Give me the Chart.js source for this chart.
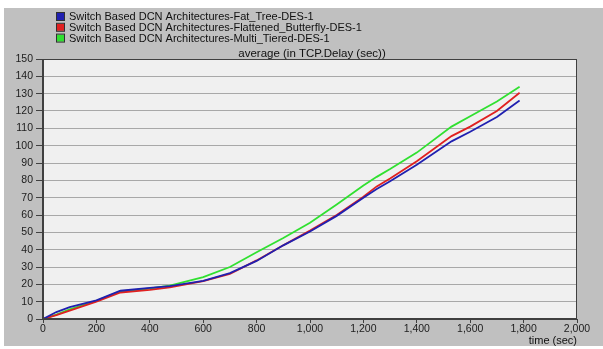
<!DOCTYPE html>
<html>
<head>
<meta charset="utf-8">
<script src="https://cdn.jsdelivr.net/npm/chart.js@4/dist/chart.umd.min.js"></script>
<style>
  body { margin: 0; background: #fff; }
  canvas { display: block; }
</style>
</head>
<body>
<canvas id="chart" width="603" height="349"></canvas>
<script>
// time (sec) samples shared by all series
const timeSec = [0, 50, 100, 200, 290, 400, 475, 600, 700, 800, 900, 1000, 1100, 1200, 1250, 1300, 1400, 1530, 1600, 1700, 1785];

const fatTree = [0, 4, 6.8, 10.8, 16.3, 17.9, 19, 22, 26.5, 33.5, 42.5, 50.5, 59.5, 70, 75, 79.5, 89, 102.5, 108, 116.5, 126];
const flattenedButterfly = [0, 2.2, 4.8, 10, 15.3, 16.8, 18.3, 21.8, 26, 33.8, 42.5, 51, 60, 70.5, 76.5, 81, 91, 105.5, 111, 120, 130.5];
const multiTiered = [0, 2.5, 5.5, 10.5, 16, 17.6, 19.2, 24.2, 30, 38.5, 46.7, 55.5, 66, 77, 82, 86.5, 96, 111, 117, 125.5, 134];

const seriesNames = [
  "Switch Based DCN Architectures-Fat_Tree-DES-1",
  "Switch Based DCN Architectures-Flattened_Butterfly-DES-1",
  "Switch Based DCN Architectures-Multi_Tiered-DES-1"
];
const seriesColors = ["#2020b0", "#e02020", "#30e030"];

const chartTitle = "average (in TCP.Delay (sec))";
const xTitle = "time (sec)";

const FONT = '"Liberation Sans", Arial, sans-serif';
const toPoints = vals => vals.map((v, i) => ({ x: timeSec[i], y: v }));

// background, plot box, legend and captions
const frame = {
  id: 'frame',
  beforeDraw(chart) {
    const { ctx, chartArea: a } = chart;
    ctx.save();
    ctx.fillStyle = '#fff';
    ctx.fillRect(0, 0, chart.width, chart.height);
    ctx.fillStyle = '#c0c0c0';
    ctx.fillRect(4, 8, chart.width - 4, 338);
    ctx.fillStyle = '#f0f0f0';
    ctx.fillRect(a.left, a.top, a.right - a.left, a.bottom - a.top);
    ctx.restore();
  },
  afterDraw(chart) {
    const { ctx, chartArea: a } = chart;
    ctx.save();
    ctx.strokeStyle = '#404040';
    ctx.lineWidth = 1;
    ctx.strokeRect(a.left + 0.5, a.top + 0.5, a.right - a.left - 1, a.bottom - a.top);
    ctx.lineWidth = 2;
    ctx.beginPath();
    ctx.moveTo(a.left, a.top);
    ctx.lineTo(a.left, a.bottom);
    ctx.lineTo(a.right, a.bottom);
    ctx.stroke();

    ctx.font = '11px ' + FONT;
    ctx.textBaseline = 'middle';
    seriesNames.forEach((name, i) => {
      const y = 16.5 + i * 10.8;
      ctx.fillStyle = seriesColors[i];
      ctx.fillRect(57, y - 3.5, 7, 7);
      ctx.strokeStyle = '#303030';
      ctx.lineWidth = 1;
      ctx.strokeRect(56.5, y - 4, 8, 8);
      ctx.fillStyle = '#101010';
      ctx.textAlign = 'left';
      ctx.fillText(name, 69, y + 0.5);
    });

    ctx.font = '11.5px ' + FONT;
    ctx.fillStyle = '#101010';
    ctx.textAlign = 'center';
    ctx.fillText(chartTitle, (a.left + a.right) / 2 + 2, 54);
    ctx.font = '11px ' + FONT;
    ctx.textAlign = 'right';
    ctx.fillText(xTitle, a.right, 341);
    ctx.restore();
  }
};

new Chart(document.getElementById('chart'), {
  type: 'line',
  data: {
    datasets: [
      { label: seriesNames[0], data: toPoints(fatTree), borderColor: seriesColors[0] },
      { label: seriesNames[1], data: toPoints(flattenedButterfly), borderColor: seriesColors[1] },
      { label: seriesNames[2], data: toPoints(multiTiered), borderColor: seriesColors[2] }
    ].map(d => Object.assign(d, { borderWidth: 1.8, pointRadius: 0, tension: 0, fill: false }))
  },
  options: {
    responsive: false,
    animation: false,
    layout: { padding: { top: 59, right: 26, left: 0, bottom: 0 } },
    plugins: { legend: { display: false }, tooltip: { enabled: false } },
    scales: {
      x: {
        type: 'linear',
        min: 0,
        max: 2000,
        ticks: {
          stepSize: 200,
          color: '#202020',
          font: { family: FONT, size: 10.5 },
          padding: 0,
          maxRotation: 0
        },
        grid: { drawOnChartArea: false, drawTicks: true, tickLength: 4, color: '#404040' },
        border: { display: false },
        afterFit: s => { s.height = 30; }
      },
      y: {
        min: 0,
        max: 150,
        ticks: {
          stepSize: 10,
          color: '#202020',
          font: { family: FONT, size: 10.5 },
          padding: 3
        },
        grid: { color: '#a8a8a8', lineWidth: 1, tickLength: 7, tickColor: '#404040' },
        border: { display: false },
        afterFit: s => { s.width = 43; }
      }
    }
  },
  plugins: [frame]
});
</script>
</body>
</html>
